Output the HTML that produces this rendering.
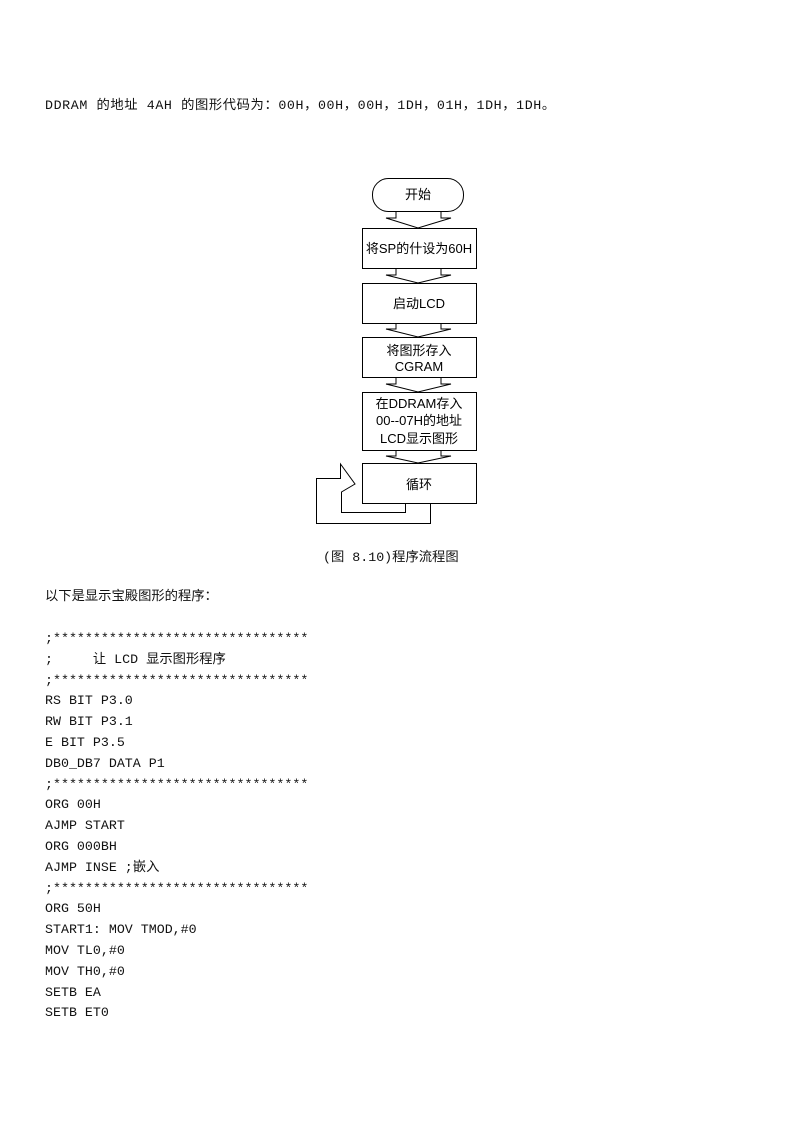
<!DOCTYPE html>
<html><head><meta charset="utf-8">
<style>
body{margin:0;width:794px;height:1123px;background:#fff;position:relative;overflow:hidden;}
.t{position:absolute;left:45px;font-family:"Liberation Mono","Noto Sans CJK SC",monospace;font-size:13.3px;color:#111;white-space:pre;line-height:16px;}
</style></head><body>
<div class="t" style="top:98px;letter-spacing:0.6px">DDRAM 的地址 4AH 的图形代码为：00H，00H，00H，1DH，01H，1DH，1DH。</div>
<svg style="position:absolute;left:0;top:0" width="794" height="1123">
<g fill="#fff" stroke="#000" stroke-width="1">
<rect x="372.5" y="178.5" width="91" height="33" rx="16"/>
<rect x="362.5" y="228.5" width="114" height="40"/>
<rect x="362.5" y="283.5" width="114" height="40"/>
<rect x="362.5" y="337.5" width="114" height="40"/>
<rect x="362.5" y="392.5" width="114" height="58"/>
<rect x="362.5" y="463.5" width="114" height="40"/>
<polygon points="396,211.5 396,218 386,218 418,228 451,218 441,218 441,211.5"/>
<polygon points="396,268.5 396,275 386,275 418,283 451,275 441,275 441,268.5"/>
<polygon points="396,323.5 396,329 386,329 418,337 451,329 441,329 441,323.5"/>
<polygon points="396,377.5 396,384 386,384 418,392 451,384 441,384 441,377.5"/>
<polygon points="396,450.5 396,456 386,456 418,463 451,456 441,456 441,450.5"/>
<polygon points="430.5,503.5 430.5,523.5 316.5,523.5 316.5,478.5 340.5,478.5 340.5,464 355,484 341.5,492 341.5,512.5 405.5,512.5 405.5,503.5"/>
</g>
<g font-family="Liberation Sans,Noto Sans CJK SC,sans-serif" font-size="13" text-anchor="middle" fill="#000">
<text x="418" y="199">开始</text>
<text x="419" y="253">将SP的什设为60H</text>
<text x="419" y="308">启动LCD</text>
<text x="419" y="355">将图形存入</text>
<text x="419" y="371">CGRAM</text>
<text x="419" y="408">在DDRAM存入</text>
<text x="419" y="425">00--07H的地址</text>
<text x="419" y="443">LCD显示图形</text>
<text x="419" y="489">循环</text>
</g>
</svg>
<div class="t" style="top:550px;left:323px">(图 8.10)程序流程图</div>
<div class="t" style="top:589px">以下是显示宝殿图形的程序：</div>
<div class="t" style="top:629px;line-height:20.8px">;********************************
;     让 LCD 显示图形程序
;********************************
RS BIT P3.0
RW BIT P3.1
E BIT P3.5
DB0_DB7 DATA P1
;********************************
ORG 00H
AJMP START
ORG 000BH
AJMP INSE ;嵌入
;********************************
ORG 50H
START1: MOV TMOD,#0
MOV TL0,#0
MOV TH0,#0
SETB EA
SETB ET0</div>
</body></html>
